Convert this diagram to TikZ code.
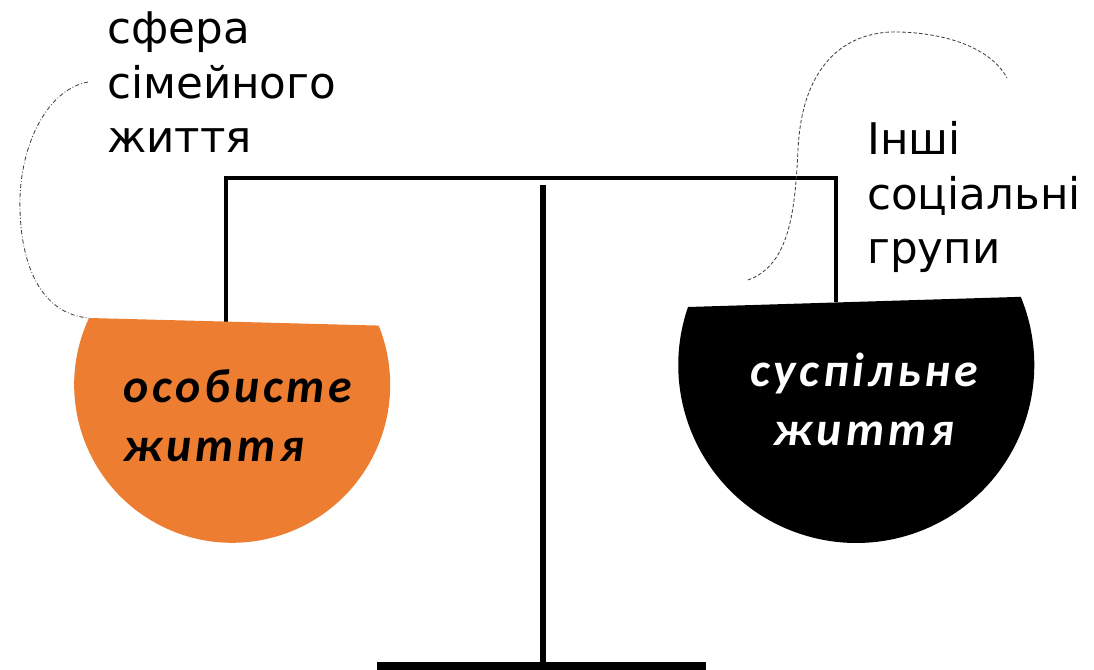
\documentclass[tikz,border=0pt]{standalone}
\usepackage{fontspec}
\setmainfont{DejaVu Sans}
\newfontfamily\bowlfont[LetterSpace=8]{Carlito}
\definecolor{bowlorange}{HTML}{ED7D31}

\begin{document}
\begin{tikzpicture}[x=0.025cm, y=0.025cm,
    label/.style={anchor=base west, inner sep=0pt, align=left, font=\fontsize{31}{39}\selectfont},
    bowltext/.style={anchor=base, inner sep=0pt, font=\bowlfont\bfseries\itshape\fontsize{34}{42}\selectfont},
    link/.style={line width=0.6pt, gray!50!black}
]
    \useasboundingbox (0,0) rectangle (1094,670);

    % stand
    \draw[line width=4.6pt] (543,485) -- (543,4);
    \draw[line width=5pt] (377,4) -- (706,4);

    % beam with both strings
    \coordinate (famhook) at (226,348);
    \coordinate (grphook) at (836,368);
    \draw[line width=2.2pt, line join=miter] (famhook) |- (531,492) -| (grphook);

    % bowls
    \coordinate (famrim) at (89,352);
    \coordinate (grprim) at (688,363);
    \fill[bowlorange] (famrim) arc[start angle=155, end angle=382, radius=158] -- cycle;
    \fill[black] (grprim) arc[start angle=161, end angle=382.5, radius=178] -- cycle;

    \node[bowltext, anchor=base west, align=left] (personal) at (123,208) {особисте\\життя};
    \node[bowltext, align=center, text=white] (public) at (864,224) {суспільне\\життя};

    % labels
    \node[label] (family) at (107,517) {сфера\\сімейного\\життя};
    \node[label] (groups) at (867,406) {Інші\\соціальні\\групи};

    \coordinate (famtail) at (88,588);
    \draw[link, dash pattern=on 3pt off 1.5pt on 0.6pt off 1.5pt] (famtail)
        .. controls (45,580) and (18,520) .. (20,460)
        .. controls (22,390) and (50,355) .. (famrim);

    \coordinate (grptail) at (748,390);
    \coordinate (grpend) at (1007,592);
    \draw[link, dash pattern=on 2.5pt off 1.5pt] (grptail)
        .. controls (790,405) and (795,460) .. (798,520)
        .. controls (802,610) and (850,640) .. (900,638)
        .. controls (960,636) and (995,615) .. (grpend);
\end{tikzpicture}
\end{document}
